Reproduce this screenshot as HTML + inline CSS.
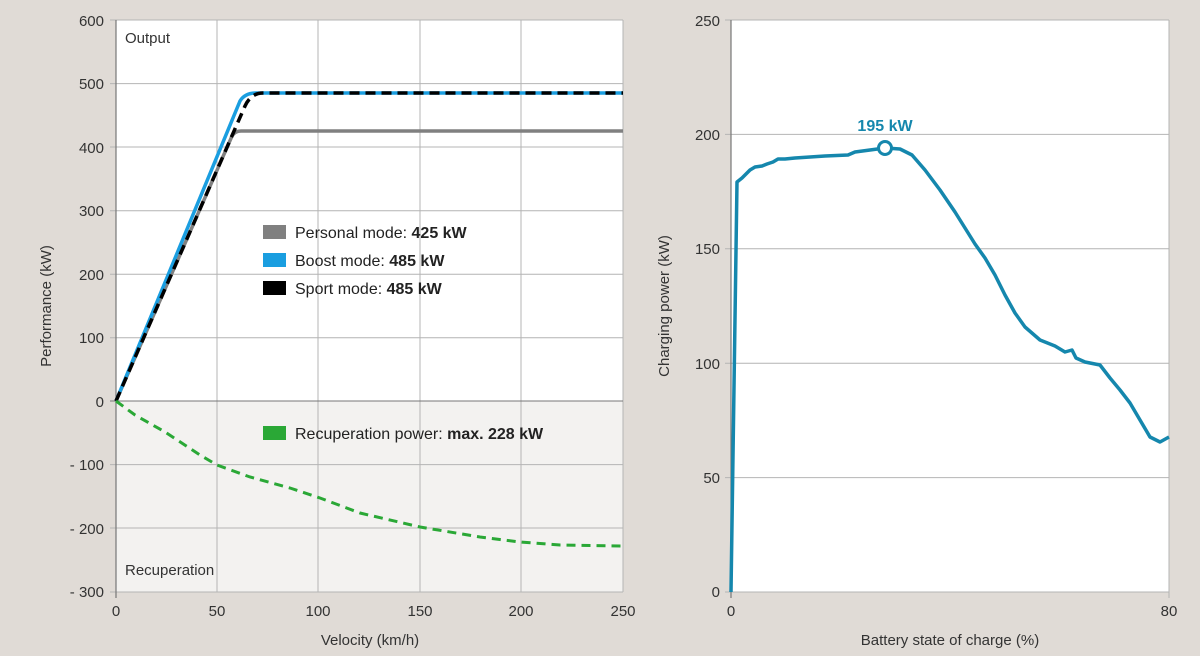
<!DOCTYPE html>
<html><head><meta charset="utf-8"><style>
body{margin:0;background:#e0dbd6;}
svg{display:block;font-family:"Liberation Sans",sans-serif;}
</style></head><body>
<svg width="1200" height="656" viewBox="0 0 1200 656">
<rect width="1200" height="656" fill="#e0dbd6"/>
<rect x="116" y="20" width="507" height="381" fill="#fff"/>
<rect x="116" y="401" width="507" height="191" fill="#f3f2f0"/>
<g stroke="#b4b4b4" stroke-width="1">
<line x1="217" y1="20" x2="217" y2="592"/><line x1="318" y1="20" x2="318" y2="592"/>
<line x1="420" y1="20" x2="420" y2="592"/><line x1="521" y1="20" x2="521" y2="592"/>
<line x1="623" y1="20" x2="623" y2="592"/>
<line x1="110" y1="20" x2="623" y2="20"/><line x1="110" y1="83.6" x2="623" y2="83.6"/>
<line x1="110" y1="147" x2="623" y2="147"/><line x1="110" y1="210.7" x2="623" y2="210.7"/>
<line x1="110" y1="274.2" x2="623" y2="274.2"/><line x1="110" y1="337.8" x2="623" y2="337.8"/>
<line x1="110" y1="464.6" x2="623" y2="464.6"/><line x1="110" y1="528" x2="623" y2="528"/>
<line x1="110" y1="592" x2="623" y2="592"/>
</g>
<line x1="110" y1="401" x2="623" y2="401" stroke="#777" stroke-width="1"/>
<line x1="116" y1="20" x2="116" y2="598" stroke="#777" stroke-width="1.2"/>
<g font-size="15" fill="#333" text-anchor="end">
<text x="104" y="26">600</text><text x="104" y="89">500</text><text x="104" y="153">400</text>
<text x="104" y="216">300</text><text x="104" y="280">200</text><text x="104" y="343">100</text>
<text x="104" y="407">0</text><text x="104" y="470">- 100</text><text x="104" y="534">- 200</text>
<text x="104" y="597">- 300</text>
</g>
<g font-size="15" fill="#333" text-anchor="middle">
<text x="116" y="616">0</text><text x="217" y="616">50</text><text x="318" y="616">100</text>
<text x="420" y="616">150</text><text x="521" y="616">200</text><text x="623" y="616">250</text>
<text x="370" y="645">Velocity (km/h)</text>
</g>
<text transform="translate(51,306) rotate(-90)" font-size="15" fill="#333" text-anchor="middle">Performance (kW)</text>
<text x="125" y="43" font-size="15" fill="#333">Output</text>
<text x="125" y="575" font-size="15" fill="#333">Recuperation</text>
<path d="M116,401 L232,136 Q235,131 241,131 L623,131" fill="none" stroke="#808080" stroke-width="3.5"/>
<path d="M116,401 L240,101 Q245,93 256,93 L623,93" fill="none" stroke="#1a9ee0" stroke-width="3.5"/>
<path d="M116,401 L245,106 Q251,93 263,93 L623,93" fill="none" stroke="#000" stroke-width="3.5" stroke-dasharray="10,6"/>
<path d="M116,401 L135,415 L165,432 L200,455 L217,465 L250,477 L290,488 L320,498 L360,513 L420,527 L480,537 L520,542 L560,545 L623,546" fill="none" stroke="#2aa836" stroke-width="3" stroke-dasharray="9,6"/>
<g font-size="16" fill="#222">
<rect x="263" y="225" width="23" height="14" fill="#808080"/><text x="295" y="238">Personal mode: <tspan font-weight="bold">425 kW</tspan></text>
<rect x="263" y="253" width="23" height="14" fill="#1a9ee0"/><text x="295" y="266">Boost mode: <tspan font-weight="bold">485 kW</tspan></text>
<rect x="263" y="281" width="23" height="14" fill="#000"/><text x="295" y="294">Sport mode: <tspan font-weight="bold">485 kW</tspan></text>
<rect x="263" y="426" width="23" height="14" fill="#2aa836"/><text x="295" y="439">Recuperation power: <tspan font-weight="bold">max. 228 kW</tspan></text>
</g>
<rect x="731" y="20" width="438" height="572" fill="#fff"/>
<g stroke="#b4b4b4" stroke-width="1">
<line x1="725" y1="20" x2="1169" y2="20"/><line x1="725" y1="134.4" x2="1169" y2="134.4"/>
<line x1="725" y1="248.8" x2="1169" y2="248.8"/><line x1="725" y1="363.2" x2="1169" y2="363.2"/>
<line x1="725" y1="477.6" x2="1169" y2="477.6"/><line x1="725" y1="592" x2="1169" y2="592"/>
<line x1="1169" y1="20" x2="1169" y2="598"/>
</g>
<line x1="731" y1="20" x2="731" y2="598" stroke="#777" stroke-width="1.2"/>
<g font-size="15" fill="#333" text-anchor="end">
<text x="720" y="26">250</text><text x="720" y="140">200</text><text x="720" y="254">150</text>
<text x="720" y="369">100</text><text x="720" y="483">50</text><text x="720" y="597">0</text>
</g>
<g font-size="15" fill="#333" text-anchor="middle">
<text x="731" y="616">0</text><text x="1169" y="616">80</text>
<text x="950" y="645">Battery state of charge (%)</text>
</g>
<text transform="translate(669,306) rotate(-90)" font-size="15" fill="#333" text-anchor="middle">Charging power (kW)</text>
<path d="M731,592 L737,182 L742,178 L750,170 L755,167 L762,166 L767,164 L773,162 L778,159 L785,159 L795,158 L810,157 L825,156 L848,155 L855,152 L870,150 L885,148 L900,149 L912,155 L925,170 L940,190 L955,212 L965,228 L975,244 L985,258 L995,275 L1005,295 L1015,313 L1025,327 L1040,340 L1055,346 L1065,352 L1072,350 L1076,358 L1085,362 L1090,363 L1100,365 L1110,378 L1120,390 L1130,403 L1140,420 L1150,437 L1160,442 L1169,437" fill="none" stroke="#1587ad" stroke-width="3.5" stroke-linejoin="round"/>
<circle cx="885" cy="148" r="6.5" fill="#fff" stroke="#1587ad" stroke-width="3"/>
<text x="885" y="131" font-size="16" font-weight="bold" fill="#1587ad" text-anchor="middle">195 kW</text>
</svg>
</body></html>
